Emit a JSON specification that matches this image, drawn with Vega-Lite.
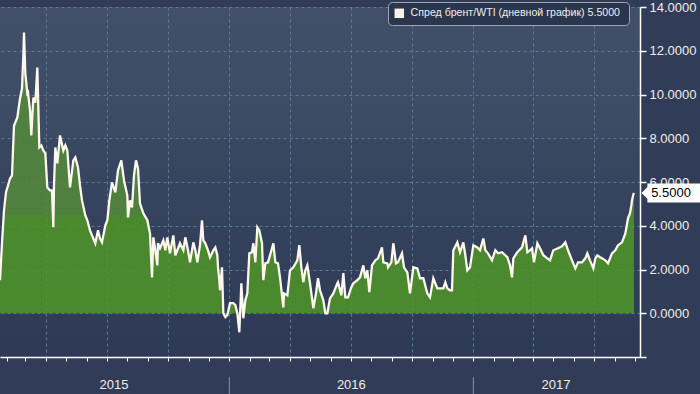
{
  "$schema": "https://vega.github.io/schema/vega-lite/v6.json",
  "width": 640,
  "height": 350,
  "autosize": {"type": "none"},
  "padding": {"left": 0, "top": 7, "right": 60, "bottom": 37},
  "background": "#313d58",
  "config": {
    "font": "Liberation Sans",
    "view": {
      "stroke": null,
      "fill": {
        "gradient": "linear", "x1": 0, "y1": 0, "x2": 0, "y2": 1,
        "stops": [
          {"offset": 0, "color": "#414f69"},
          {"offset": 0.37, "color": "#3c4a64"},
          {"offset": 0.375, "color": "#394761"},
          {"offset": 1, "color": "#2e3a55"}
        ]
      }
    }
  },
  "datasets": {
    "spread": [
      {"date": "2015-01-22", "value": 1.51},
      {"date": "2015-01-25", "value": 3.20},
      {"date": "2015-01-28", "value": 4.70},
      {"date": "2015-01-31", "value": 5.53},
      {"date": "2015-02-03", "value": 5.84},
      {"date": "2015-02-06", "value": 6.16},
      {"date": "2015-02-09", "value": 6.30},
      {"date": "2015-02-12", "value": 8.58},
      {"date": "2015-02-14", "value": 8.72},
      {"date": "2015-02-17", "value": 8.95},
      {"date": "2015-02-21", "value": 9.82},
      {"date": "2015-02-24", "value": 10.27},
      {"date": "2015-02-26", "value": 11.78},
      {"date": "2015-02-27", "value": 12.83},
      {"date": "2015-03-01", "value": 10.96},
      {"date": "2015-03-04", "value": 10.05},
      {"date": "2015-03-05", "value": 10.09},
      {"date": "2015-03-08", "value": 9.27},
      {"date": "2015-03-10", "value": 8.13},
      {"date": "2015-03-13", "value": 9.86},
      {"date": "2015-03-16", "value": 9.63},
      {"date": "2015-03-19", "value": 11.23},
      {"date": "2015-03-22", "value": 7.58},
      {"date": "2015-03-25", "value": 7.67},
      {"date": "2015-03-28", "value": 7.44},
      {"date": "2015-03-31", "value": 7.31},
      {"date": "2015-04-03", "value": 5.75},
      {"date": "2015-04-07", "value": 5.62},
      {"date": "2015-04-10", "value": 5.62},
      {"date": "2015-04-12", "value": 3.93},
      {"date": "2015-04-13", "value": 5.84},
      {"date": "2015-04-15", "value": 7.58},
      {"date": "2015-04-18", "value": 6.85},
      {"date": "2015-04-22", "value": 8.13},
      {"date": "2015-04-27", "value": 7.44},
      {"date": "2015-04-30", "value": 7.67},
      {"date": "2015-05-03", "value": 7.44},
      {"date": "2015-05-07", "value": 5.75},
      {"date": "2015-05-12", "value": 6.99},
      {"date": "2015-05-15", "value": 7.12},
      {"date": "2015-05-19", "value": 6.67},
      {"date": "2015-05-22", "value": 5.84},
      {"date": "2015-05-25", "value": 5.16},
      {"date": "2015-05-30", "value": 4.47},
      {"date": "2015-06-02", "value": 4.25},
      {"date": "2015-06-06", "value": 3.79},
      {"date": "2015-06-11", "value": 3.42},
      {"date": "2015-06-14", "value": 3.20},
      {"date": "2015-06-18", "value": 3.79},
      {"date": "2015-06-21", "value": 3.42},
      {"date": "2015-06-24", "value": 3.24},
      {"date": "2015-06-29", "value": 4.02},
      {"date": "2015-07-02", "value": 4.25},
      {"date": "2015-07-05", "value": 5.16},
      {"date": "2015-07-09", "value": 5.98},
      {"date": "2015-07-14", "value": 5.53},
      {"date": "2015-07-18", "value": 6.53},
      {"date": "2015-07-23", "value": 6.99},
      {"date": "2015-07-27", "value": 6.07},
      {"date": "2015-08-01", "value": 5.39},
      {"date": "2015-08-02", "value": 4.38},
      {"date": "2015-08-05", "value": 5.16},
      {"date": "2015-08-08", "value": 4.84},
      {"date": "2015-08-11", "value": 6.30},
      {"date": "2015-08-14", "value": 6.99},
      {"date": "2015-08-17", "value": 6.62},
      {"date": "2015-08-20", "value": 5.02},
      {"date": "2015-08-25", "value": 4.57},
      {"date": "2015-08-31", "value": 4.25},
      {"date": "2015-09-04", "value": 3.65},
      {"date": "2015-09-07", "value": 1.64},
      {"date": "2015-09-09", "value": 3.47},
      {"date": "2015-09-12", "value": 2.88},
      {"date": "2015-09-15", "value": 2.19},
      {"date": "2015-09-16", "value": 3.20},
      {"date": "2015-09-19", "value": 2.97},
      {"date": "2015-09-24", "value": 3.33},
      {"date": "2015-09-27", "value": 2.88},
      {"date": "2015-09-30", "value": 3.47},
      {"date": "2015-10-04", "value": 2.74},
      {"date": "2015-10-09", "value": 3.56},
      {"date": "2015-10-12", "value": 2.65},
      {"date": "2015-10-15", "value": 2.88},
      {"date": "2015-10-19", "value": 3.20},
      {"date": "2015-10-24", "value": 2.88},
      {"date": "2015-10-27", "value": 3.47},
      {"date": "2015-10-31", "value": 2.88},
      {"date": "2015-11-03", "value": 2.33},
      {"date": "2015-11-08", "value": 3.24},
      {"date": "2015-11-11", "value": 2.88},
      {"date": "2015-11-14", "value": 2.33},
      {"date": "2015-11-18", "value": 3.11},
      {"date": "2015-11-21", "value": 4.25},
      {"date": "2015-11-23", "value": 3.33},
      {"date": "2015-11-26", "value": 3.20},
      {"date": "2015-11-30", "value": 2.88},
      {"date": "2015-12-03", "value": 2.56},
      {"date": "2015-12-08", "value": 2.88},
      {"date": "2015-12-11", "value": 3.01},
      {"date": "2015-12-14", "value": 2.65},
      {"date": "2015-12-15", "value": 2.10},
      {"date": "2015-12-17", "value": 1.51},
      {"date": "2015-12-18", "value": 1.05},
      {"date": "2015-12-20", "value": 1.74},
      {"date": "2015-12-21", "value": 2.10},
      {"date": "2015-12-23", "value": 0.00},
      {"date": "2015-12-26", "value": -0.18},
      {"date": "2015-12-29", "value": -0.09},
      {"date": "2016-01-02", "value": 0.46},
      {"date": "2016-01-07", "value": 0.46},
      {"date": "2016-01-10", "value": 0.37},
      {"date": "2016-01-13", "value": 0.00},
      {"date": "2016-01-16", "value": -0.87},
      {"date": "2016-01-19", "value": 1.37},
      {"date": "2016-01-22", "value": -0.23},
      {"date": "2016-01-25", "value": 0.59},
      {"date": "2016-01-28", "value": 0.91},
      {"date": "2016-01-31", "value": 2.74},
      {"date": "2016-02-04", "value": 2.79},
      {"date": "2016-02-06", "value": 3.20},
      {"date": "2016-02-09", "value": 2.33},
      {"date": "2016-02-12", "value": 3.93},
      {"date": "2016-02-15", "value": 3.79},
      {"date": "2016-02-19", "value": 3.20},
      {"date": "2016-02-21", "value": 1.51},
      {"date": "2016-02-24", "value": 2.28},
      {"date": "2016-02-28", "value": 2.33},
      {"date": "2016-03-05", "value": 2.97},
      {"date": "2016-03-07", "value": 3.20},
      {"date": "2016-03-10", "value": 2.33},
      {"date": "2016-03-14", "value": 2.28},
      {"date": "2016-03-17", "value": 1.64},
      {"date": "2016-03-22", "value": 0.27},
      {"date": "2016-03-23", "value": 0.91},
      {"date": "2016-03-28", "value": 0.82},
      {"date": "2016-04-01", "value": 1.96},
      {"date": "2016-04-06", "value": 2.10},
      {"date": "2016-04-12", "value": 2.42},
      {"date": "2016-04-15", "value": 3.11},
      {"date": "2016-04-18", "value": 2.10},
      {"date": "2016-04-21", "value": 1.42},
      {"date": "2016-04-24", "value": 1.96},
      {"date": "2016-04-27", "value": 2.19},
      {"date": "2016-05-01", "value": 1.37},
      {"date": "2016-05-06", "value": 0.23},
      {"date": "2016-05-10", "value": 0.91},
      {"date": "2016-05-13", "value": 1.60},
      {"date": "2016-05-16", "value": 1.05},
      {"date": "2016-05-21", "value": 0.59},
      {"date": "2016-05-24", "value": 0.00},
      {"date": "2016-05-27", "value": 0.00},
      {"date": "2016-05-31", "value": 0.68},
      {"date": "2016-06-05", "value": 0.91},
      {"date": "2016-06-11", "value": 1.37},
      {"date": "2016-06-12", "value": 1.42},
      {"date": "2016-06-17", "value": 0.82},
      {"date": "2016-06-20", "value": 1.83},
      {"date": "2016-06-23", "value": 0.73},
      {"date": "2016-06-27", "value": 0.73},
      {"date": "2016-07-02", "value": 1.19},
      {"date": "2016-07-05", "value": 1.37},
      {"date": "2016-07-11", "value": 1.51},
      {"date": "2016-07-15", "value": 1.64},
      {"date": "2016-07-20", "value": 2.19},
      {"date": "2016-07-23", "value": 1.60},
      {"date": "2016-07-26", "value": 1.96},
      {"date": "2016-07-29", "value": 0.96},
      {"date": "2016-08-02", "value": 2.19},
      {"date": "2016-08-07", "value": 2.42},
      {"date": "2016-08-11", "value": 2.51},
      {"date": "2016-08-17", "value": 3.01},
      {"date": "2016-08-19", "value": 2.33},
      {"date": "2016-08-25", "value": 2.28},
      {"date": "2016-08-26", "value": 2.10},
      {"date": "2016-08-31", "value": 2.33},
      {"date": "2016-09-03", "value": 3.20},
      {"date": "2016-09-07", "value": 2.28},
      {"date": "2016-09-10", "value": 2.33},
      {"date": "2016-09-16", "value": 2.74},
      {"date": "2016-09-19", "value": 2.10},
      {"date": "2016-09-24", "value": 1.87},
      {"date": "2016-09-28", "value": 0.91},
      {"date": "2016-10-03", "value": 2.10},
      {"date": "2016-10-09", "value": 2.05},
      {"date": "2016-10-13", "value": 1.60},
      {"date": "2016-10-18", "value": 1.60},
      {"date": "2016-10-24", "value": 0.91},
      {"date": "2016-10-28", "value": 0.73},
      {"date": "2016-11-02", "value": 1.60},
      {"date": "2016-11-08", "value": 1.14},
      {"date": "2016-11-12", "value": 1.14},
      {"date": "2016-11-17", "value": 1.14},
      {"date": "2016-11-20", "value": 1.42},
      {"date": "2016-11-23", "value": 1.14},
      {"date": "2016-11-27", "value": 1.05},
      {"date": "2016-11-30", "value": 1.05},
      {"date": "2016-12-02", "value": 2.88},
      {"date": "2016-12-08", "value": 3.24},
      {"date": "2016-12-12", "value": 2.79},
      {"date": "2016-12-17", "value": 3.24},
      {"date": "2016-12-20", "value": 2.65},
      {"date": "2016-12-23", "value": 1.96},
      {"date": "2016-12-27", "value": 2.10},
      {"date": "2017-01-01", "value": 3.11},
      {"date": "2017-01-07", "value": 3.01},
      {"date": "2017-01-11", "value": 2.88},
      {"date": "2017-01-16", "value": 3.42},
      {"date": "2017-01-19", "value": 2.88},
      {"date": "2017-01-23", "value": 2.74},
      {"date": "2017-01-29", "value": 2.42},
      {"date": "2017-02-03", "value": 2.88},
      {"date": "2017-02-07", "value": 2.74},
      {"date": "2017-02-13", "value": 2.79},
      {"date": "2017-02-21", "value": 2.56},
      {"date": "2017-02-25", "value": 2.19},
      {"date": "2017-02-28", "value": 1.64},
      {"date": "2017-03-02", "value": 2.51},
      {"date": "2017-03-08", "value": 2.79},
      {"date": "2017-03-15", "value": 3.01},
      {"date": "2017-03-20", "value": 3.56},
      {"date": "2017-03-23", "value": 2.79},
      {"date": "2017-03-27", "value": 2.88},
      {"date": "2017-03-30", "value": 2.97},
      {"date": "2017-04-02", "value": 2.33},
      {"date": "2017-04-07", "value": 3.20},
      {"date": "2017-04-11", "value": 2.97},
      {"date": "2017-04-16", "value": 2.65},
      {"date": "2017-04-22", "value": 2.51},
      {"date": "2017-04-26", "value": 2.42},
      {"date": "2017-05-01", "value": 2.88},
      {"date": "2017-05-08", "value": 2.97},
      {"date": "2017-05-14", "value": 3.06},
      {"date": "2017-05-19", "value": 3.24},
      {"date": "2017-05-23", "value": 2.88},
      {"date": "2017-05-29", "value": 2.42},
      {"date": "2017-06-03", "value": 2.05},
      {"date": "2017-06-07", "value": 2.33},
      {"date": "2017-06-13", "value": 2.33},
      {"date": "2017-06-18", "value": 2.51},
      {"date": "2017-06-21", "value": 2.74},
      {"date": "2017-06-25", "value": 2.42},
      {"date": "2017-06-30", "value": 2.05},
      {"date": "2017-07-03", "value": 2.51},
      {"date": "2017-07-06", "value": 2.65},
      {"date": "2017-07-10", "value": 2.56},
      {"date": "2017-07-13", "value": 2.51},
      {"date": "2017-07-18", "value": 2.42},
      {"date": "2017-07-22", "value": 2.28},
      {"date": "2017-07-25", "value": 2.51},
      {"date": "2017-07-28", "value": 2.74},
      {"date": "2017-08-02", "value": 2.88},
      {"date": "2017-08-06", "value": 3.11},
      {"date": "2017-08-12", "value": 3.24},
      {"date": "2017-08-17", "value": 3.65},
      {"date": "2017-08-20", "value": 4.16},
      {"date": "2017-08-21", "value": 4.34},
      {"date": "2017-08-24", "value": 4.57},
      {"date": "2017-08-26", "value": 4.93},
      {"date": "2017-08-27", "value": 5.16},
      {"date": "2017-08-29", "value": 5.43},
      {"date": "2017-08-30", "value": 5.50}
    ],
    "last": [{"date": "2017-08-30", "value": 5.5}],
    "years": [
      {"date": "2015-07-12", "label": "2015"},
      {"date": "2016-07-02", "label": "2016"},
      {"date": "2017-05-05", "label": "2017"}
    ],
    "seps": [{"date": "2016-01-01"}, {"date": "2017-01-01"}]
  },
  "layer": [
    {
      "data": {"name": "spread"},
      "mark": {
        "type": "area",
        "fillOpacity": 0.88,
        "fill": {
          "gradient": "linear", "x1": 0, "y1": 0, "x2": 0, "y2": 1,
          "stops": [
            {"offset": 0, "color": "#52873a"},
            {"offset": 0.605, "color": "#53893b"},
            {"offset": 0.61, "color": "#4d9328"},
            {"offset": 1, "color": "#4d9328"}
          ]
        }
      },
      "encoding": {
        "x": {
          "field": "date", "type": "temporal",
          "scale": {"type": "utc", "domain": ["2015-01-22", "2017-09-08"]},
          "axis": {
            "title": null, "labels": false,
            "domainColor": "#ffffff", "domainWidth": 1.5,
            "tickColor": "#ffffff", "tickSize": 4, "tickWidth": 1,
            "tickCount": {"interval": "month", "step": 1},
            "grid": true, "gridColor": "#5a7a96", "gridDash": [3, 3], "gridWidth": 1,
            "gridOpacity": {"condition": {"test": "utcmonth(datum.value) % 3 !== 0", "value": 0}, "value": 1},
            "zindex": 0
          }
        },
        "y": {
          "field": "value", "type": "quantitative",
          "scale": {"domain": [-2, 14], "nice": false, "zero": false},
          "axis": {
            "orient": "right", "title": null,
            "values": [-2, -1, 0, 1, 2, 3, 4, 5, 6, 7, 8, 9, 10, 11, 12, 13, 14],
            "labelExpr": "datum.value % 2 === 0 && datum.value > -2 ? format(datum.value, '.4f') : ''",
            "labelFontSize": 13, "labelColor": "#f2ece4", "labelPadding": 3,
            "labelOverlap": false, "labelFlush": false,
            "domainColor": "#ffffff", "domainWidth": 1.5,
            "tickColor": "#ffffff", "tickSize": 6, "tickWidth": 1.5,
            "grid": true, "gridColor": "#5a7a96", "gridDash": [3, 3], "gridWidth": 1,
            "gridOpacity": {"condition": {"test": "datum.value % 2 !== 0", "value": 0}, "value": 1},
            "zindex": 0
          }
        }
      }
    },
    {
      "data": {"name": "spread"},
      "mark": {"type": "line", "strokeWidth": 2.3},
      "encoding": {
        "x": {"field": "date", "type": "temporal"},
        "y": {"field": "value", "type": "quantitative"},
        "color": {
          "datum": "Спред брент/WTI (дневной график)  5.5000",
          "scale": {"range": ["#fff6ee"]},
          "legend": {
            "orient": "none", "legendX": 388, "legendY": -5,
            "title": null,
            "fillColor": "#2a364d", "strokeColor": "#a0a6ae", "cornerRadius": 4,
            "padding": 6,
            "symbolType": "square", "symbolSize": 90,
            "symbolFillColor": "#fdf0ea", "symbolStrokeWidth": 0,
            "labelFontSize": 10.6, "labelColor": "#f4eee8", "labelLimit": 400, "labelOffset": 6
          }
        }
      }
    },
    {
      "data": {"name": "seps"},
      "mark": {"type": "rule", "color": "#8a93a6", "strokeWidth": 1},
      "encoding": {
        "x": {"field": "date", "type": "temporal"},
        "y": {"datum": -2.92},
        "y2": {"datum": -3.7}
      }
    },
    {
      "data": {"name": "years"},
      "mark": {"type": "text", "color": "#f2ece4", "fontSize": 13, "baseline": "middle", "align": "center"},
      "encoding": {
        "x": {"field": "date", "type": "temporal"},
        "y": {"datum": -3.3},
        "text": {"field": "label"}
      }
    },
    {
      "data": {"name": "last"},
      "mark": {
        "type": "point",
        "shape": "M-0.8,-0.32L1,-0.32L1,0.32L-0.8,0.32L-0.8,0.2L-1,0L-0.8,-0.2Z",
        "filled": true, "color": "#ffffff", "opacity": 1, "size": 3481, "xOffset": 37, "strokeWidth": 0
      },
      "encoding": {
        "x": {"field": "date", "type": "temporal"},
        "y": {"field": "value", "type": "quantitative"}
      }
    },
    {
      "data": {"name": "last"},
      "mark": {"type": "text", "color": "#000000", "fontSize": 13, "baseline": "middle", "align": "center", "dx": 37},
      "encoding": {
        "x": {"field": "date", "type": "temporal"},
        "y": {"field": "value", "type": "quantitative"},
        "text": {"field": "value", "type": "quantitative", "format": ".4f"}
      }
    }
  ]
}
